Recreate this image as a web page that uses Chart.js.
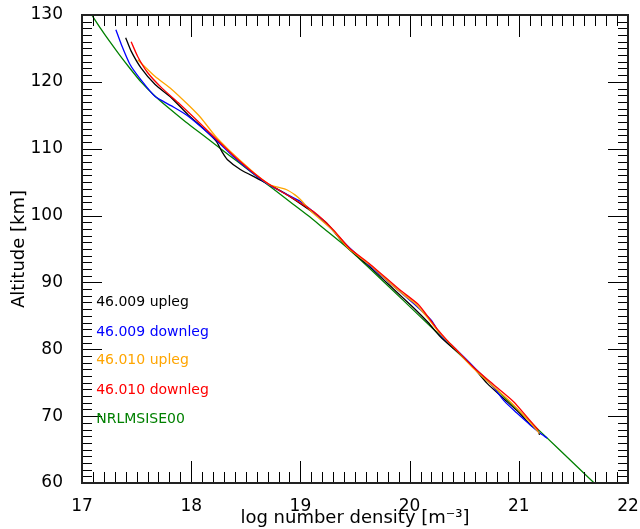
<!DOCTYPE html>
<html>
<head>
<meta charset="utf-8">
<script src="https://cdn.jsdelivr.net/npm/chart.js@4.4.1/dist/chart.umd.min.js"></script>
<style>
  html, body { margin: 0; padding: 0; background: #fff; }
  #wrap { width: 640px; height: 529px; }
</style>
</head>
<body>
<div id="wrap"><canvas id="c" width="640" height="529"></canvas></div>
<script>
// ---- tick labels ----
const xTickValues = [17, 18, 19, 20, 21, 22];
const yTickValues = [60, 70, 80, 90, 100, 110, 120, 130];

// ---- series names ----
const seriesNames = ['46.009 upleg', '46.009 downleg', '46.010 upleg', '46.010 downleg', 'NRLMSISE00'];

// ---- 46.009 upleg (black) ----
const altBlack = [126.6,124.6,122.1,119.6,117.6,115.1,112.9,111.1,109.6,108.4,106.9,105.6,104.4,103.1,101.1,98.9,95.4,92.7,88.9,86.0,84.0,81.9,80.4,78.9,77.0,74.9,72.5,70.4,68.8,67.7,67.2];
const denBlack = [17.40,17.45,17.54,17.67,17.82,17.97,18.12,18.23,18.28,18.33,18.45,18.60,18.74,18.88,19.06,19.24,19.42,19.61,19.86,20.05,20.17,20.28,20.38,20.49,20.60,20.71,20.87,21.01,21.10,21.18,21.19];

// ---- 46.009 downleg (blue) ----
const altBlue = [127.8,125.6,122.6,120.3,117.8,116.4,114.9,111.4,108.9,106.4,104.6,103.2,102.1,100.1,97.9,95.5,92.7,88.9,86.5,84.3,82.0,80.4,78.0,76.0,74.5,72.2,70.5,68.9,67.5,66.7];
const denBlue = [17.31,17.36,17.44,17.54,17.67,17.82,17.97,18.22,18.38,18.56,18.71,18.87,19.00,19.15,19.29,19.43,19.62,19.89,20.06,20.20,20.29,20.40,20.55,20.67,20.76,20.87,20.98,21.09,21.19,21.26];

// ---- 46.010 upleg (orange) ----
const altOrange = [123.3,120.8,118.9,116.6,114.6,111.9,109.9,107.5,105.8,104.6,103.9,103.1,102.4,100.6,97.9,95.1,92.7,88.9,86.7,84.4,82.5,80.2,77.4,74.7,72.2,69.5,68.0,67.4];
const denOrange = [17.51,17.67,17.82,17.97,18.09,18.22,18.34,18.50,18.62,18.72,18.87,18.95,19.00,19.10,19.29,19.44,19.63,19.89,20.06,20.18,20.27,20.41,20.57,20.75,20.92,21.08,21.16,21.19];

// ---- 46.010 downleg (red) ----
const altRed = [126.0,123.8,121.4,119.1,116.9,114.6,111.6,109.1,106.4,104.6,102.6,100.6,97.9,95.1,92.7,88.9,86.7,84.4,82.9,81.4,79.9,77.4,74.7,72.2,69.4,67.9];
const denRed = [17.45,17.51,17.60,17.73,17.88,18.03,18.22,18.38,18.57,18.72,18.93,19.12,19.30,19.45,19.64,19.91,20.08,20.19,20.26,20.34,20.43,20.58,20.77,20.95,21.10,21.18];

// ---- NRLMSISE00 (green) ----
const altModel = [130,128,126,124,122,120,118,116,114,112,110,108,106,104,102,100,98,96,94,92,90,85,80,75,70,65,60];
const denModel = [17.09,17.17,17.255,17.345,17.44,17.54,17.66,17.80,17.95,18.11,18.27,18.43,18.59,18.75,18.91,19.07,19.22,19.37,19.51,19.64,19.77,20.09,20.41,20.73,21.05,21.37,21.69];

// ---- in-plot label anchors (data units) ----
const labelX = 17.13;
const labelAlts = [86.95, 82.6, 78.27, 73.93, 69.59];

const colors = ['#000000', '#0000ff', '#ffa500', '#ff0000', '#008000'];

function pts(alt, den) { return alt.map((a, i) => ({ x: den[i], y: a })); }

const seriesData = [
  pts(altBlack, denBlack),
  pts(altBlue, denBlue),
  pts(altOrange, denOrange),
  pts(altRed, denRed),
  pts(altModel, denModel)
];

// draw order: red on top, green at bottom
const drawOrder = [3, 2, 1, 0, 4];
const datasets = drawOrder.map(i => ({
  label: seriesNames[i],
  data: seriesData[i],
  borderColor: colors[i],
  backgroundColor: colors[i],
  borderWidth: 1.3,
  pointRadius: 0,
  showLine: true,
  fill: false,
  tension: 0.2
}));

Chart.defaults.font.family = "'DejaVu Sans', sans-serif";
Chart.defaults.color = '#000';

function zeroPad(s) { s.paddingTop = 0; s.paddingBottom = 0; s.paddingLeft = 0; s.paddingRight = 0; }

const framePlugin = {
  id: 'frameTicks',
  afterDatasetsDraw(chart) {
    const { ctx, chartArea: a, scales: { x, y } } = chart;
    ctx.save();
    ctx.strokeStyle = '#000';
    ctx.lineWidth = 1;
    ctx.beginPath();
    for (let i = 0; i <= 50; i++) {
      const v = 17 + i * 0.1;
      const px = Math.round(x.getPixelForValue(v)) + 0.5;
      const len = (i % 10 === 0) ? 22 : 11;
      ctx.moveTo(px, a.bottom); ctx.lineTo(px, a.bottom - len);
      ctx.moveTo(px, a.top); ctx.lineTo(px, a.top + len);
    }
    for (let i = 0; i <= 70; i++) {
      const v = 60 + i;
      const py = Math.round(y.getPixelForValue(v)) + 0.5;
      const len = (i % 10 === 0) ? 20 : 10;
      ctx.moveTo(a.left, py); ctx.lineTo(a.left + len, py);
      ctx.moveTo(a.right, py); ctx.lineTo(a.right - len, py);
    }
    ctx.stroke();
    ctx.lineWidth = 2;
    ctx.strokeStyle = '#222';
    ctx.strokeRect(a.left, a.top, a.right - a.left, a.bottom - a.top);

    ctx.font = "14px 'DejaVu Sans'";
    ctx.textAlign = 'left';
    ctx.textBaseline = 'middle';
    seriesNames.forEach((name, i) => {
      ctx.fillStyle = colors[i];
      ctx.fillText(name, x.getPixelForValue(labelX), y.getPixelForValue(labelAlts[i]));
    });
    ctx.restore();
  }
};

new Chart(document.getElementById('c'), {
  type: 'scatter',
  data: { datasets },
  options: {
    responsive: false,
    animation: false,
    events: [],
    layout: { padding: { top: 15, right: 12, bottom: 0, left: 0 } },
    plugins: { legend: { display: false }, tooltip: { enabled: false } },
    scales: {
      x: {
        type: 'linear', position: 'bottom', min: 17, max: 22,
        grid: { display: false }, border: { display: false },
        afterBuildTicks: s => { s.ticks = xTickValues.map(v => ({ value: v })); },
        afterFit: s => { s.height = 46; zeroPad(s); },
        ticks: { font: { size: 17 }, color: '#000', padding: 5, autoSkip: false, maxRotation: 0,
                 callback: v => String(v) },
        title: { display: true, text: 'log number density [m\u207B\u00B3]', font: { size: 18 }, color: '#000',
                 padding: { top: 0, bottom: 0 } }
      },
      y: {
        type: 'linear', position: 'left', min: 60, max: 130,
        grid: { display: false }, border: { display: false },
        afterBuildTicks: s => { s.ticks = yTickValues.map(v => ({ value: v })); },
        afterFit: s => { s.width = 82; zeroPad(s); },
        ticks: { font: { size: 17 }, color: '#000', padding: 11, autoSkip: false,
                 callback: v => String(v) },
        title: { display: true, text: 'Altitude [km]', font: { size: 18 }, color: '#000',
                 padding: { top: 9, bottom: 0 } }
      }
    }
  },
  plugins: [framePlugin]
});
</script>
</body>
</html>
